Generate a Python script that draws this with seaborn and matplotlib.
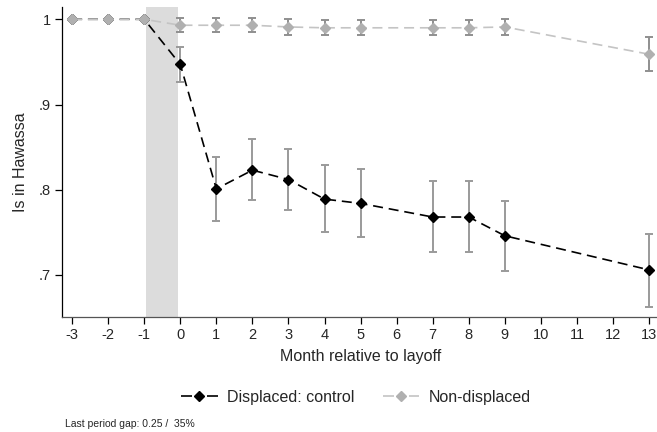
import matplotlib
matplotlib.use("Agg")
import matplotlib.pyplot as plt
import seaborn as sns
import pandas as pd
import numpy as np
from matplotlib.lines import Line2D

months = [-3, -2, -1, 0, 1, 2, 3, 4, 5, 7, 8, 9, 13]
disp_mean = [1.0, 1.0, 1.0, 0.947, 0.801, 0.823, 0.812, 0.789, 0.784, 0.768, 0.768, 0.746, 0.706]
disp_lo = [1.0, 1.0, 1.0, 0.926, 0.763, 0.788, 0.776, 0.750, 0.744, 0.727, 0.727, 0.705, 0.663]
disp_hi = [1.0, 1.0, 1.0, 0.968, 0.838, 0.859, 0.848, 0.829, 0.824, 0.810, 0.810, 0.787, 0.748]
nond_mean = [1.0, 1.0, 1.0, 0.993, 0.993, 0.993, 0.991, 0.990, 0.990, 0.990, 0.990, 0.991, 0.959]
nond_lo = [1.0, 1.0, 1.0, 0.985, 0.985, 0.985, 0.982, 0.981, 0.981, 0.981, 0.981, 0.982, 0.939]
nond_hi = [1.0, 1.0, 1.0, 1.001, 1.001, 1.001, 1.000, 0.999, 0.999, 0.999, 0.999, 1.000, 0.979]
xticks = list(range(-3, 14))
yticks = [0.7, 0.8, 0.9, 1.0]
ytick_labels = [".7", ".8", ".9", "1"]
series_names = ["Displaced: control", "Non-displaced"]
note = "Last period gap: 0.25 /  35%"

sns.set_theme(style="ticks")
plt.rcParams['font.family'] = ['Liberation Sans', 'DejaVu Sans']

fig = plt.figure(figsize=(6.57, 4.32), dpi=100)
ax = fig.add_axes([0.0944, 0.266, 0.91, 0.717])

df = pd.DataFrame({
    "month": months * 2,
    "value": disp_mean + nond_mean,
    "lo": disp_lo + nond_lo,
    "hi": disp_hi + nond_hi,
    "group": [series_names[0]] * len(months) + [series_names[1]] * len(months),
})

ax.axvspan(-0.95, -0.05, color="#dcdcdc", lw=0, zorder=0)

line_colors = {series_names[0]: "black", series_names[1]: "#c4c4c4"}
marker_colors = {series_names[0]: "black", series_names[1]: "#b0b0b0"}
err_colors = {series_names[0]: "#9a9a9a", series_names[1]: "#8f8f8f"}
dash = (6, 3.5)
MS = 4.8

z = 2
for name in series_names:
    sub = df[df.group == name]
    ax.errorbar(sub.month, sub.value,
                yerr=[sub.value - sub.lo, sub.hi - sub.value],
                fmt="none", ecolor=err_colors[name], elinewidth=1.4,
                capsize=3.2, capthick=1.4, zorder=z)
    sns.lineplot(data=sub, x="month", y="value", ax=ax, color=line_colors[name],
                 lw=1.2, legend=False, zorder=z + 1)
    ax.lines[-1].set_dashes(dash)
    ax.plot(sub.month, sub.value, ls="none", marker="D", ms=MS,
            color=marker_colors[name], mec=marker_colors[name], zorder=z + 2)
    z += 3

ax.set_xlim(-3.28, 13.3)
ax.set_ylim(0.6506, 1.014)
ax.set_xticks(xticks)
ax.set_xticklabels([str(t) for t in xticks], fontsize=10.5)
ax.set_yticks(yticks)
ax.set_yticklabels(ytick_labels, fontsize=10.5)
ax.tick_params(axis="both", length=5, width=0.9, color="black", pad=3)
for s in ["top", "right"]:
    ax.spines[s].set_visible(False)
for s in ["left", "bottom"]:
    ax.spines[s].set_color("black")
    ax.spines[s].set_linewidth(0.9)
ax.spines["bottom"].set_color("#555555")

ax.set_xlabel("Month relative to layoff", fontsize=11.5, labelpad=5)
ax.set_ylabel("Is in Hawassa", fontsize=11.5, labelpad=8)

leg_ls = (0, (6.6, 9))
handles = [
    Line2D([0], [0], color="black", lw=1.2, linestyle=leg_ls, marker="D", ms=MS,
           mfc="black", mec="black"),
    Line2D([0], [0], color="#c4c4c4", lw=1.2, linestyle=leg_ls, marker="D", ms=MS,
           mfc="#b0b0b0", mec="#b0b0b0"),
]
fig.legend(handles, series_names, loc="center", bbox_to_anchor=(0.542, 0.081),
           ncol=2, frameon=False, fontsize=11.5, handlelength=2.3, columnspacing=1.75,
           handletextpad=0.6)

fig.text(65 / 657, 1 - 424 / 432, note, fontsize=7.5, va="center", ha="left")

fig.savefig("out.png", dpi=100)
